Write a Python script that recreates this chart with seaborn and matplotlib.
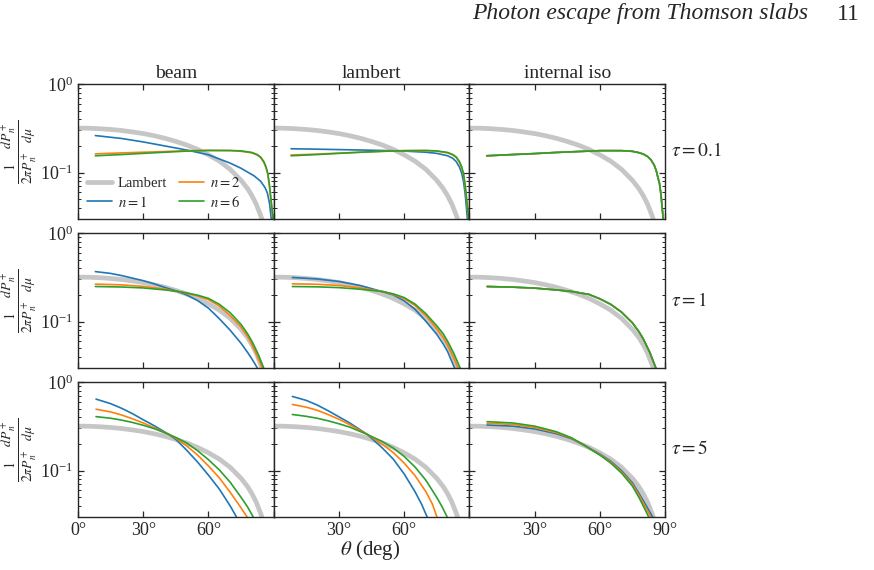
# angular escape distributions, 3x3 grid (source x tau)

import numpy as np
import pandas as pd
import matplotlib
matplotlib.use("Agg")
import matplotlib.pyplot as plt
import seaborn as sb

sb.set_style("ticks")
plt.rcParams['font.family'] = ['Liberation Serif', 'DejaVu Serif']
plt.rcParams['mathtext.fontset'] = 'stix'

sources = ["beam", "lambert", "internal iso"]
taus = ["0.1", "1", "5"]
orders = [1, 2, 6]

# Lambert reference curve
lambert_th = [0, 5, 10, 15, 20, 25, 30, 35, 40, 45, 50, 55, 60, 65, 70, 75, 78, 80, 82, 84, 85]
lambert_val = [0.318, 0.317, 0.313, 0.307, 0.299, 0.288, 0.276, 0.261, 0.244, 0.225, 0.205,
               0.183, 0.159, 0.135, 0.109, 0.082, 0.066, 0.055, 0.044, 0.033, 0.028]

# tau = 0.1
beam_01_n1 = ([8, 20, 30, 40, 50, 60, 70, 75, 81, 84, 86, 87.1, 88.1, 88.9],
              [0.262, 0.243, 0.222, 0.20, 0.18, 0.159, 0.128, 0.112, 0.092, 0.08, 0.068, 0.059, 0.045, 0.03])
beam_01_n2 = ([8, 20, 30, 40, 50, 60, 70, 75, 80, 82.4, 84, 85.5, 86.5, 87.3, 88, 88.6, 89.2, 89.6],
              [0.163, 0.167, 0.170, 0.173, 0.177, 0.178, 0.177, 0.174, 0.167, 0.158, 0.148, 0.13, 0.113,
               0.095, 0.072, 0.052, 0.038, 0.03])
beam_01_n6 = ([8, 20, 30, 40, 50, 60, 70, 75, 80, 82.4, 84, 85.5, 86.5, 87.3, 88, 88.6, 89.2, 89.7],
              [0.155, 0.160, 0.165, 0.170, 0.175, 0.178, 0.178, 0.176, 0.169, 0.16, 0.15, 0.133, 0.116,
               0.098, 0.075, 0.055, 0.04, 0.03])
lamb_01_n1 = ([8, 20, 30, 40, 50, 60, 70, 75, 80, 82.4, 84, 85.5, 86.5, 87.3, 88, 88.6, 89.1],
              [0.186, 0.184, 0.182, 0.180, 0.178, 0.175, 0.170, 0.165, 0.155, 0.145, 0.133, 0.115, 0.098,
               0.08, 0.06, 0.042, 0.03])
lamb_01_n2 = ([8, 20, 30, 40, 50, 60, 70, 75, 80, 82.4, 84, 85.5, 86.5, 87.3, 88, 88.6, 89.2, 89.6],
              [0.158, 0.162, 0.166, 0.170, 0.174, 0.177, 0.177, 0.175, 0.167, 0.158, 0.148, 0.13, 0.113,
               0.095, 0.072, 0.052, 0.038, 0.03])
lamb_01_n6 = ([8, 20, 30, 40, 50, 60, 70, 75, 80, 82.4, 84, 85.5, 86.5, 87.3, 88, 88.6, 89.2, 89.7],
              [0.155, 0.160, 0.165, 0.170, 0.174, 0.177, 0.178, 0.176, 0.169, 0.16, 0.15, 0.133, 0.116,
               0.098, 0.075, 0.055, 0.04, 0.03])
iso_01 = ([8, 20, 30, 40, 50, 60, 70, 75, 78, 80, 82, 83.5, 85, 86, 86.6, 87.5, 88.2, 88.7, 89.2],
          [0.155, 0.160, 0.164, 0.169, 0.173, 0.177, 0.177, 0.174, 0.168, 0.162, 0.152, 0.14, 0.122,
           0.105, 0.091, 0.075, 0.055, 0.04, 0.03])

# tau = 1
beam_1_n1 = ([8, 15, 20, 25, 30, 35, 40, 46, 50, 55, 60, 65, 70, 75, 78, 80, 82.5],
             [0.367, 0.35, 0.331, 0.31, 0.29, 0.267, 0.243, 0.219, 0.20, 0.173, 0.142, 0.108, 0.08,
              0.057, 0.045, 0.038, 0.03])
beam_1_n2 = ([8, 20, 30, 40, 46, 50, 55, 60, 65, 70, 75, 78, 80, 83, 84.8],
             [0.265, 0.26, 0.25, 0.233, 0.219, 0.208, 0.195, 0.177, 0.15, 0.117, 0.087, 0.068, 0.055,
              0.038, 0.03])
beam_1_n6 = ([8, 20, 30, 40, 46, 50, 55, 60, 65, 70, 75, 78, 80, 83, 85.4],
             [0.249, 0.246, 0.24, 0.228, 0.219, 0.211, 0.199, 0.183, 0.157, 0.126, 0.093, 0.073, 0.06,
              0.042, 0.03])
lamb_1_n1 = ([8.6, 20, 30, 40, 50, 55, 60, 65, 70, 75, 78, 80, 83.2],
             [0.315, 0.303, 0.284, 0.255, 0.218, 0.20, 0.172, 0.138, 0.101, 0.072, 0.056, 0.046, 0.03])
lamb_1_n2 = ([8.6, 20, 30, 40, 50, 55, 60, 65, 70, 75, 78, 80, 83, 84.8],
             [0.267, 0.264, 0.256, 0.24, 0.219, 0.203, 0.182, 0.152, 0.117, 0.083, 0.066, 0.054,
              0.038, 0.03])
lamb_1_n6 = ([8.6, 20, 30, 40, 50, 55, 60, 65, 70, 75, 78, 80, 83, 85.8],
             [0.249, 0.247, 0.242, 0.232, 0.219, 0.206, 0.187, 0.158, 0.123, 0.09, 0.073, 0.06,
              0.043, 0.03])
iso_1 = ([8.2, 20, 30, 40, 47, 55, 60, 65, 70, 75, 78, 80, 83, 85.8],
         [0.249, 0.245, 0.239, 0.228, 0.219, 0.203, 0.181, 0.157, 0.128, 0.097, 0.077, 0.064, 0.045, 0.03])

# tau = 5
beam_5_n1 = ([8.3, 15, 20, 25, 30, 35, 41.7, 45, 50, 55, 60, 65, 70, 72.9],
             [0.641, 0.57, 0.506, 0.44, 0.375, 0.322, 0.257, 0.225, 0.17, 0.125, 0.089, 0.062, 0.04, 0.03])
beam_5_n2 = ([8.3, 15, 20, 25, 30, 35, 41.7, 45, 50, 55, 60, 65, 70, 75, 77.8],
             [0.493, 0.46, 0.425, 0.385, 0.345, 0.305, 0.257, 0.232, 0.19, 0.15, 0.113, 0.083, 0.057,
              0.038, 0.03])
beam_5_n6 = ([8.3, 15, 20, 25, 30, 35, 41.7, 45, 50, 55, 60, 65, 70, 75, 78, 80.6],
             [0.407, 0.39, 0.372, 0.35, 0.325, 0.298, 0.257, 0.237, 0.205, 0.168, 0.133, 0.102, 0.074,
              0.05, 0.039, 0.03])
lamb_5_n1 = ([8.6, 15, 20, 25, 30, 35, 43.2, 50, 55, 60, 65, 68, 70.6],
             [0.687, 0.62, 0.55, 0.475, 0.405, 0.345, 0.255, 0.18, 0.135, 0.092, 0.058, 0.042, 0.03])
lamb_5_n2 = ([8.6, 15, 20, 25, 30, 35, 43.2, 50, 55, 60, 65, 70, 73, 75.1],
             [0.558, 0.52, 0.48, 0.43, 0.38, 0.33, 0.255, 0.198, 0.16, 0.122, 0.088, 0.058, 0.042, 0.03])
lamb_5_n6 = ([8.6, 15, 20, 25, 30, 35, 43.2, 50, 55, 60, 65, 70, 75, 77.5, 79.8],
             [0.43, 0.41, 0.39, 0.365, 0.338, 0.31, 0.255, 0.213, 0.18, 0.145, 0.11, 0.078, 0.05,
              0.039, 0.03])
iso_5_n1 = ([8.2, 20, 30, 40, 47, 52.6, 60, 65, 70, 75, 78, 80, 84.3],
            [0.327, 0.318, 0.296, 0.261, 0.229, 0.195, 0.154, 0.128, 0.1, 0.073, 0.056, 0.046, 0.03])
iso_5_n2 = ([8.2, 20, 30, 40, 47, 52.6, 60, 65, 70, 75, 78, 80, 83.5],
            [0.342, 0.332, 0.307, 0.268, 0.232, 0.195, 0.152, 0.125, 0.097, 0.07, 0.053, 0.043, 0.03])
iso_5_n6 = ([8.2, 20, 30, 40, 47, 52.6, 60, 65, 70, 75, 78, 80, 82.5],
            [0.357, 0.345, 0.318, 0.275, 0.235, 0.195, 0.15, 0.122, 0.094, 0.067, 0.05, 0.04, 0.03])

curves = {
    ("0.1", "beam"): [beam_01_n1, beam_01_n2, beam_01_n6],
    ("0.1", "lambert"): [lamb_01_n1, lamb_01_n2, lamb_01_n6],
    ("0.1", "internal iso"): [iso_01, iso_01, iso_01],
    ("1", "beam"): [beam_1_n1, beam_1_n2, beam_1_n6],
    ("1", "lambert"): [lamb_1_n1, lamb_1_n2, lamb_1_n6],
    ("1", "internal iso"): [iso_1, iso_1, iso_1],
    ("5", "beam"): [beam_5_n1, beam_5_n2, beam_5_n6],
    ("5", "lambert"): [lamb_5_n1, lamb_5_n2, lamb_5_n6],
    ("5", "internal iso"): [iso_5_n1, iso_5_n2, iso_5_n6],
}

rows = []
for (tau, src), lst in curves.items():
    for n, (th, val) in zip(orders, lst):
        for t, v in zip(th, val):
            rows.append((tau, src, n, t, v))
df = pd.DataFrame(rows, columns=["tau", "source", "n", "theta", "value"])

pal = sb.color_palette("tab10")
ncol = {1: pal[0], 2: pal[1], 6: pal[2]}
gray = "#c6c6c6"

fig, axes = plt.subplots(3, 3, figsize=(8.74, 5.70), dpi=100)
fig.subplots_adjust(left=78/874, right=665/874, top=1-84/570, bottom=1-517/570,
                    wspace=0, hspace=14/135)

tick_txt = [["0°", "30°", "60°", ""], ["", "30°", "60°", ""], ["", "30°", "60°", "90°"]]

for i, tau in enumerate(taus):
    for j, src in enumerate(sources):
        ax = axes[i, j]
        sb.lineplot(x=lambert_th, y=lambert_val, ax=ax, color=gray, lw=3.4,
                    label="Lambert" if (i == 0 and j == 0) else None, legend=False)
        sub = df[(df.tau == tau) & (df.source == src)]
        for n in orders:
            s = sub[sub.n == n]
            sb.lineplot(data=s, x="theta", y="value", ax=ax, color=ncol[n], lw=1.2,
                        estimator=None, label=rf"$n = {n}$" if (i == 0 and j == 0) else None,
                        legend=False)
        ax.set_yscale("log")
        ax.set_ylim(0.03, 1)
        ax.set_xlim(0, 90)
        ax.set_xticks([0, 30, 60, 90])
        ax.tick_params(which="both", direction="in", top=True, right=True, labelsize=13)
        ax.tick_params(which="major", length=4.5, width=0.9)
        ax.tick_params(which="minor", length=2.5, width=0.7)
        ax.tick_params(axis="x", which="minor", bottom=False, top=False)
        for sp in ax.spines.values():
            sp.set_linewidth(1.0)
        ax.set_xlabel("")
        ax.set_ylabel("")
        if i == 2:
            ax.set_xticklabels(tick_txt[j])
        else:
            ax.set_xticklabels([])
        if j == 0:
            ax.set_ylabel(r"$\frac{1}{2\pi P_n^+}\frac{dP_n^+}{d\mu}$", fontsize=14)
            ax.yaxis.set_label_coords(-0.2, 0.5)
        else:
            ax.set_yticklabels([], minor=False)
            ax.set_yticklabels([], minor=True)
        if j == 2:
            ax.text(1.03, 0.5, rf"$\tau = {tau}$", transform=ax.transAxes, va="center",
                    ha="left", fontsize=14)
        if i == 0:
            ax.set_title(src, fontsize=14, pad=4)

h, l = axes[0, 0].get_legend_handles_labels()
axes[0, 0].legend(h, l, ncol=2, loc="lower left", frameon=False, fontsize=10.5,
                  handlelength=1.7, columnspacing=0.8, labelspacing=0.3,
                  borderaxespad=0.25, handletextpad=0.4)

fig.text(370/874, 1-550/570, r"$\theta$ (deg)", ha="center", va="center", fontsize=15)
fig.text(808/874, 1-14/570, "Photon escape from Thomson slabs", ha="right", va="center",
         fontsize=17, style="italic")
fig.text(860/874, 1-14/570, "11", ha="right", va="center", fontsize=17)

plt.savefig("out.png", dpi=100)
